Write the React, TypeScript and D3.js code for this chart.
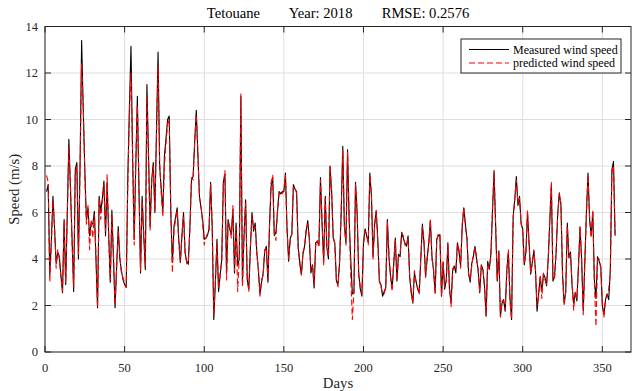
import React from 'react';
import * as d3 from 'd3';

const measured = [
  6.9, 7.2, 3.3, 4.8, 6.7, 5.3, 3.8, 4.3, 4.1, 3.3,
  2.55, 5.7, 2.9, 6.0, 9.15, 7.0, 4.85, 2.6, 7.85, 8.15,
  4.0, 8.0, 13.4, 10.5, 7.85, 5.7, 6.2, 5.0, 5.55, 5.5,
  6.05, 4.0, 1.9, 6.7, 6.05, 6.6, 7.35, 5.0, 7.3, 5.0,
  3.0, 6.1, 4.0, 1.9, 3.7, 5.4, 4.0, 3.5, 3.1, 2.9,
  2.77, 7.5, 10.5, 13.15, 8.5, 4.85, 8.0, 11.0, 7.0, 3.4,
  6.7, 5.0, 3.55, 11.5, 8.5, 5.4, 7.4, 8.15, 6.0, 9.5,
  12.9, 8.0, 7.0, 6.05, 8.45, 9.2, 10.0, 10.15, 6.0, 3.85,
  5.4, 5.8, 6.2, 4.85, 3.85, 5.0, 6.0, 4.25, 3.9, 3.77,
  5.4, 7.4, 7.55, 9.0, 10.4, 8.5, 6.7, 6.2, 5.7, 4.85,
  4.9, 5.0, 5.3, 7.3, 5.4, 1.4, 3.0, 4.85, 2.6, 3.3,
  4.0, 7.3, 7.65, 3.4, 5.7, 5.3, 5.05, 6.15, 3.4, 5.55,
  3.7, 4.0, 11.0, 3.0, 5.0, 6.55, 3.1, 2.7, 4.5, 6.0,
  5.2, 5.55, 4.3, 3.5, 2.5, 3.0, 3.4, 4.35, 4.55, 3.0,
  5.5, 7.15, 7.5, 5.0, 5.15, 6.0, 6.9, 6.8, 6.9, 6.9,
  7.7, 5.3, 3.9, 4.9, 5.05, 7.2, 7.0, 6.9, 4.55, 3.8,
  3.35, 4.2, 4.55, 5.2, 5.65, 4.85, 3.4, 3.75, 2.75, 4.7,
  4.75, 4.6, 7.5, 5.5, 3.9, 6.7, 4.5, 4.0, 8.0, 6.9,
  4.9, 4.7, 3.05, 2.9, 3.85, 6.0, 8.85, 5.4, 4.7, 8.7,
  5.7, 4.0, 2.5, 2.55, 7.3, 6.0, 3.4, 2.7, 2.4, 4.7,
  5.3, 5.0, 4.7, 7.7, 6.7, 4.1, 5.5, 6.05, 4.85, 3.0,
  2.9, 2.4, 2.6, 2.75, 5.7, 4.1, 3.25, 2.75, 3.8, 4.9,
  3.05, 4.2, 4.1, 5.15, 4.9, 4.7, 4.55, 5.0, 3.25, 2.6,
  2.1, 3.4, 3.05, 2.7, 2.55, 4.0, 5.5, 4.7, 3.25, 4.0,
  4.7, 5.65, 4.1, 3.5, 2.55, 4.85, 5.0, 5.05, 2.4, 3.85,
  2.7, 3.1, 4.7, 2.7, 2.1, 3.5, 3.7, 3.4, 4.7, 4.3,
  3.7, 5.4, 6.2, 5.5, 4.85, 3.4, 3.0, 3.8, 4.1, 4.55,
  4.0, 3.55, 2.55, 3.75, 3.55, 2.85, 1.55, 3.9, 3.55, 4.2,
  6.0, 7.8, 5.4, 3.05, 4.35, 1.55, 2.1, 2.25, 1.75, 3.5,
  4.3, 2.3, 1.4, 5.85, 6.55, 7.55, 6.3, 6.7, 5.5, 5.3,
  3.75, 4.3, 6.0, 4.7, 3.35, 3.85, 4.35, 3.55, 1.75, 2.5,
  3.25, 2.6, 3.35, 3.2, 2.85, 4.0, 5.6, 7.2, 3.05, 3.25,
  4.3, 6.0, 6.85, 6.3, 3.35, 2.1, 2.55, 5.55, 4.05, 4.3,
  2.85, 2.1, 2.55, 2.2, 3.7, 5.35, 4.0, 1.75, 3.85, 6.0,
  7.7, 5.7, 5.0, 6.0, 3.1, 2.3, 4.1, 3.9, 3.7, 2.0,
  1.6, 2.25, 2.5, 2.25, 3.5, 7.85, 8.2, 5.0,
];

const predicted = [
  7.6, 7.3, 3.0, 4.7, 6.5, 5.4, 3.6, 4.4, 4.0, 3.2,
  2.6, 5.6, 3.0, 5.9, 8.8, 7.1, 4.7, 2.8, 7.6, 8.0,
  4.2, 7.8, 12.4, 10.6, 7.6, 5.5, 6.3, 4.4, 5.7, 4.9,
  5.9, 4.2, 1.9, 6.6, 5.7, 6.5, 7.2, 5.2, 7.65, 5.1,
  3.1, 5.9, 4.2, 2.0, 3.6, 5.2, 4.1, 3.4, 3.2, 2.95,
  2.8, 7.3, 10.2, 12.0, 8.6, 4.6, 8.2, 10.6, 7.2, 3.5,
  6.5, 5.1, 3.7, 11.0, 8.3, 5.2, 7.3, 8.0, 6.1, 9.3,
  12.3, 8.1, 6.8, 5.8, 8.0, 9.0, 9.8, 10.0, 6.2, 3.4,
  5.2, 5.7, 6.1, 4.7, 3.9, 5.1, 5.8, 4.3, 3.8, 3.9,
  5.3, 7.5, 7.4, 9.1, 10.2, 8.6, 6.6, 6.3, 5.5, 4.6,
  4.9, 5.1, 5.2, 7.2, 5.5, 1.6, 3.1, 4.7, 2.7, 3.4,
  3.9, 7.2, 7.8, 3.1, 5.6, 5.4, 4.9, 6.3, 3.5, 5.4,
  2.6, 4.1, 11.1, 2.8, 5.1, 6.4, 3.2, 2.6, 4.6, 5.9,
  5.3, 5.4, 4.2, 3.6, 2.4, 3.1, 3.3, 4.4, 4.5, 3.1,
  5.4, 7.3, 7.6, 5.1, 4.8, 6.1, 6.8, 6.9, 6.8, 7.0,
  7.6, 5.2, 4.0, 4.8, 5.1, 7.1, 7.1, 6.8, 4.4, 3.9,
  3.3, 4.3, 4.5, 5.3, 5.5, 4.9, 3.5, 3.7, 2.9, 4.6,
  4.8, 4.5, 7.4, 5.6, 3.7, 6.6, 4.6, 4.1, 8.0, 6.8,
  5.0, 4.6, 3.1, 2.8, 3.9, 6.1, 8.7, 5.5, 4.6, 8.6,
  5.8, 3.3, 1.4, 2.6, 7.2, 6.1, 3.3, 2.8, 2.5, 4.6,
  5.2, 5.1, 4.6, 7.6, 6.8, 4.0, 5.4, 6.1, 4.7, 3.1,
  2.8, 2.5, 2.5, 2.8, 5.6, 4.2, 3.2, 2.6, 3.9, 4.8,
  3.1, 4.1, 4.2, 5.1, 5.0, 4.6, 4.6, 4.9, 3.3, 2.5,
  2.1, 3.5, 3.0, 2.8, 2.5, 4.1, 5.4, 4.8, 3.2, 4.1,
  4.6, 5.7, 4.0, 3.6, 2.5, 4.8, 5.1, 5.0, 2.4, 3.9,
  2.8, 3.0, 4.6, 2.8, 1.95, 3.6, 3.6, 3.5, 4.6, 4.4,
  3.6, 5.5, 6.2, 5.4, 4.9, 3.3, 3.1, 3.7, 4.2, 4.5,
  4.1, 3.5, 2.6, 3.7, 3.6, 2.8, 1.55, 3.8, 3.6, 4.1,
  6.1, 7.7, 5.5, 3.1, 4.3, 1.5, 2.2, 2.2, 1.8, 3.4,
  4.4, 2.2, 1.4, 5.7, 6.6, 7.4, 6.4, 6.6, 5.6, 5.1,
  3.8, 4.2, 6.1, 4.6, 3.4, 3.8, 4.4, 3.5, 2.0, 2.4,
  3.3, 2.3, 3.4, 3.1, 2.9, 3.9, 5.7, 7.3, 3.1, 3.2,
  4.4, 5.9, 6.8, 6.4, 3.3, 2.0, 2.6, 5.4, 4.1, 4.2,
  2.9, 1.8, 2.6, 2.3, 3.6, 5.4, 3.9, 1.6, 3.9, 5.9,
  7.6, 5.8, 4.9, 6.1, 3.0, 1.1, 4.0, 4.0, 3.6, 2.1,
  1.5, 2.3, 2.4, 2.7, 3.4, 7.7, 8.0, 5.1,
];

const days = measured.map((_, i) => i + 1);
const xTicks = [0, 50, 100, 150, 200, 250, 300, 350];
const yTicks = [0, 2, 4, 6, 8, 10, 12, 14];
const titleText = 'Tetouane        Year: 2018        RMSE: 0.2576';
const seriesNames = ['Measured wind speed', 'predicted wind speed'];

const W = 632;
const H = 391;
const L = 45;
const R = 631;
const T = 26.5;
const B = 352;
const FONT = '"Liberation Serif", "Times New Roman", serif';

export default function App() {
  const x = d3.scaleLinear().domain([0, 368]).range([L, R]);
  const y = d3.scaleLinear().domain([0, 14]).range([B, T]);
  const line = d3
    .line<number>()
    .x((_, i) => x(days[i]))
    .y((d) => y(d));
  const tick = 6;
  const axisColor = '#262626';
  const gridColor = '#dedede';

  return (
    <svg
      width={W}
      height={H}
      style={{ position: 'absolute', left: 0, top: 0, background: '#fff' }}
      fontFamily={FONT}
    >
      <rect x={0} y={0} width={W} height={H} fill="#fff" />
      <defs>
        <clipPath id="plotClip">
          <rect x={L} y={T} width={R - L} height={B - T} />
        </clipPath>
      </defs>
      {xTicks.map((t) => (
        <line key={'gx' + t} x1={x(t)} x2={x(t)} y1={T} y2={B} stroke={gridColor} strokeWidth={1} />
      ))}
      {yTicks.map((t) => (
        <line key={'gy' + t} x1={L} x2={R} y1={y(t)} y2={y(t)} stroke={gridColor} strokeWidth={1} />
      ))}
      <g clipPath="url(#plotClip)">
        <path d={line(measured) || ''} fill="none" stroke="#000" strokeWidth={1.1} strokeLinejoin="round" />
        <path
          d={line(predicted) || ''}
          fill="none"
          stroke="#ff0000"
          strokeWidth={1.1}
          strokeDasharray="6,3"
          strokeLinejoin="round"
        />
      </g>
      <rect x={L} y={T} width={R - L} height={B - T} fill="none" stroke={axisColor} strokeWidth={1} />
      {xTicks.map((t) => (
        <g key={'tx' + t}>
          <line x1={x(t)} x2={x(t)} y1={B} y2={B - tick} stroke={axisColor} />
          <line x1={x(t)} x2={x(t)} y1={T} y2={T + tick} stroke={axisColor} />
          <text x={x(t)} y={372} textAnchor="middle" fontSize={12.5} fill="#262626">
            {t}
          </text>
        </g>
      ))}
      {yTicks.map((t) => (
        <g key={'ty' + t}>
          <line x1={L} x2={L + tick} y1={y(t)} y2={y(t)} stroke={axisColor} />
          <line x1={R} x2={R - tick} y1={y(t)} y2={y(t)} stroke={axisColor} />
          <text x={38} y={y(t) + 4} textAnchor="end" fontSize={12.5} fill="#262626">
            {t}
          </text>
        </g>
      ))}
      <text x={(L + R) / 2} y={388} textAnchor="middle" fontSize={14.8} fill="#262626">
        Days
      </text>
      <text
        transform={`translate(19, ${(T + B) / 2}) rotate(-90)`}
        textAnchor="middle"
        fontSize={14.8}
        fill="#262626"
      >
        Speed (m/s)
      </text>
      <text x={338} y={18} textAnchor="middle" fontSize={14.6} fill="#000" style={{ whiteSpace: 'pre' }}>
        {titleText}
      </text>
      <g>
        <rect x={461} y={39} width={160} height={34} fill="#fff" stroke={axisColor} strokeWidth={1} />
        <line x1={469} x2={509} y1={49.5} y2={49.5} stroke="#000" strokeWidth={1.1} />
        <line x1={469} x2={509} y1={63} y2={63} stroke="#ff0000" strokeWidth={1.1} strokeDasharray="6,3" />
        <text x={513} y={53.5} fontSize={12} fill="#000">
          {seriesNames[0]}
        </text>
        <text x={513} y={67} fontSize={12} fill="#000">
          {seriesNames[1]}
        </text>
      </g>
    </svg>
  );
}
